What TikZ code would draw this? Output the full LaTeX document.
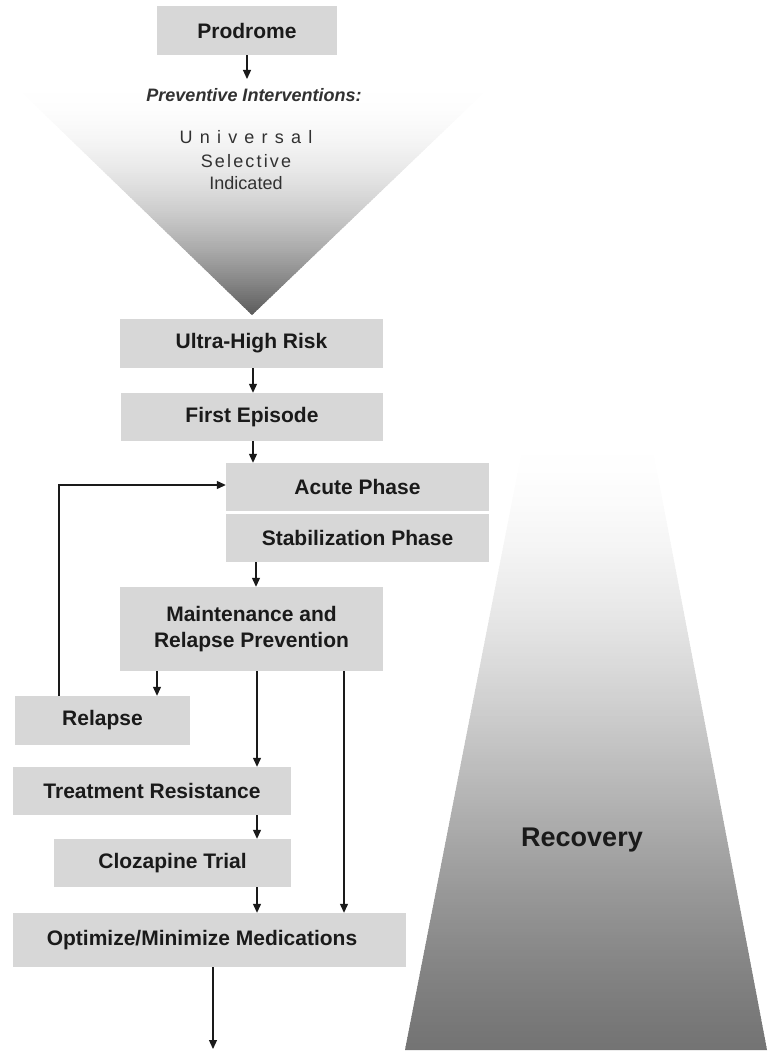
\documentclass[tikz,border=0pt]{standalone}
\usepackage{fontspec}
\setmainfont{Liberation Sans}
\newfontfamily\spacedA[LetterSpace=40]{Liberation Sans}
\newfontfamily\spacedB[LetterSpace=12]{Liberation Sans}
\usetikzlibrary{arrows.meta}
\definecolor{boxgray}{HTML}{D7D7D7}
\definecolor{ink}{HTML}{1A1A1A}
\begin{document}
\begin{tikzpicture}[x=1pt,y=-1pt,
  box/.style={fill=boxgray, inner sep=0pt, text=ink, align=center,
    font=\fontsize{21}{26}\selectfont\bfseries},
  arr/.style={line width=1.2pt, draw=ink, -{Triangle[length=9pt,width=8pt]}},
  tri/.style={text=ink!90, inner sep=0pt, font=\fontsize{18}{21}\selectfont}]
\useasboundingbox (0,0) rectangle (768,1051);
% preventive triangle (vertical gradient)
\begin{scope}
\clip (10,81) -- (496,81) -- (252,315) -- cycle;
\foreach \yy in {81,83,...,315}{
  \pgfmathsetmacro\p{65*((\yy-81)/234)^2}
  \fill[black!\p] (0,\yy) rectangle (768,\yy+2.6);
}
\end{scope}
% recovery trapezoid
\begin{scope}
\clip (524,440) -- (651,440) -- (767,1050) -- (405,1050) -- cycle;
\foreach \yy in {440,443,...,1050}{
  \pgfmathsetmacro\t{(\yy-440)/610}
  \pgfmathsetmacro\p{55*0.5*(3*\t*\t-2*\t*\t*\t+\t*sqrt(\t))}
  \fill[black!\p] (0,\yy) rectangle (768,\yy+3.6);
}
\end{scope}
% texts on shapes
\node[tri, font=\fontsize{18}{21}\selectfont\bfseries\itshape] (prev) at (254,95) {Preventive Interventions:};
\node[tri] (univ) at (246,137) {\spacedA Universal};
\node[tri] (sel) at (246,161) {\spacedB Selective};
\node[tri] (ind) at (246,183) {Indicated};
\node[text=ink, inner sep=0pt, font=\fontsize{27}{30}\selectfont\bfseries] (rec) at (582,840) {Recovery};
% boxes
\node[box, minimum width=180pt, minimum height=49pt] (prod) at (247,30.5) {Prodrome};
\node[box, minimum width=263pt, minimum height=49pt] (ultra) at (251.5,343.5) {Ultra-High Risk};
\node[box, minimum width=262pt, minimum height=48pt] (first) at (252,417) {First Episode};
\node[box, minimum width=263pt, minimum height=48pt] (acute) at (357.5,487) {Acute Phase};
\node[box, minimum width=263pt, minimum height=48pt] (stab) at (357.5,538) {Stabilization Phase};
\node[box, minimum width=263pt, minimum height=84pt] (maint) at (251.5,629) {Maintenance and\\Relapse Prevention};
\node[box, minimum width=175pt, minimum height=49pt] (relapse) at (102.5,720.5) {Relapse};
\node[box, minimum width=278pt, minimum height=48pt] (treat) at (152,791) {Treatment Resistance};
\node[box, minimum width=237pt, minimum height=48pt] (cloz) at (172.5,863) {Clozapine Trial};
\node[box, minimum width=393pt, minimum height=54pt] (opt) at (209.5,940) {Optimize/Minimize Medications\hspace*{15pt}};
% connectors
\coordinate (pend) at (247,79);
\coordinate (oend) at (213,1049);
\draw[arr] (prod.south) -- (pend);
\draw[arr] (253,0 |- ultra.south) -- (253,0 |- first.north);
\draw[arr] (253,0 |- first.south) -- (253,0 |- acute.north);
\draw[arr] (256,0 |- stab.south) -- (256,0 |- maint.north);
\draw[arr] (157,0 |- maint.south) -- (157,0 |- relapse.north);
\draw[arr] (257,0 |- maint.south) -- (257,0 |- treat.north);
\draw[arr] (344,0 |- maint.south) -- (344,0 |- opt.north);
\draw[arr] (257,0 |- treat.south) -- (257,0 |- cloz.north);
\draw[arr] (257,0 |- cloz.south) -- (257,0 |- opt.north);
\draw[arr] (213,0 |- opt.south) -- (oend);
\draw[arr] (59,0 |- relapse.north) -- (59,485) -- (59,485 -| acute.west);
\end{tikzpicture}
\end{document}
